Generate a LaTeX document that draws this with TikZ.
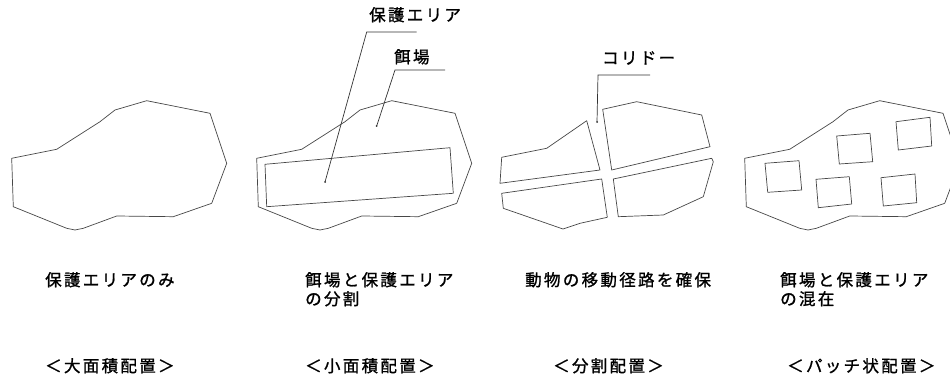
\documentclass[tikz,border=0pt]{standalone}
\usepackage{fontspec}
\newfontfamily\jp[LetterSpace=14,FakeBold=1.2]{Noto Sans CJK JP}
\usetikzlibrary{arrows.meta}
\tikzset{
  outl/.style={draw=black!72, line width=0.7pt, line join=round},
  lead/.style={draw=black!80, line width=0.7pt},
  lbl/.style={font=\jp\fontsize{16.5}{19}\selectfont, inner sep=0pt, anchor=base west, text=black},
}
\begin{document}
\begin{tikzpicture}[x=1pt,y=-1pt]
\useasboundingbox (0,0) rectangle (950,390);
\fill[white] (0,0) rectangle (950,390);
\begin{scope}
\clip (0,0) rectangle (950,390);
% panel outlines (panel 1, 2, 4)
\foreach \s in {0,245,733}{
  \draw[outl, xshift=\s] (11.7,158.3) -- (56.7,149.3) -- (100,121.7) -- (115,110) -- (146.7,100.7)
    -- (210,113.3) -- (226.7,163.3) -- (211.7,203.3) -- (173.3,216.7) -- (116.7,216)
    -- (83.3,228.3) -- (75,230) -- (66.7,228.3) -- (13.3,206.7) -- cycle;
}
\end{scope}
% panel 2 protection rectangle
\draw[outl] (265,164.3) -- (450,147.7) -- (453.3,193.3) -- (266.7,206.7) -- cycle;
% panel 3 split pieces
\draw[outl] (501.7,157.3) -- (546.7,148.3) -- (586.7,120.7) -- (600,170) -- (500,183.3) -- cycle;
\draw[outl] (602.7,109.3) -- (636.7,101.7) -- (701.7,115) -- (710,146.7) -- (611.7,170) -- cycle;
\draw[outl] (501.7,193.3) -- (601.7,179) -- (607.3,217.3) -- (580,223.3) -- (563,229) -- (503.3,208.3) -- cycle;
\draw[outl] (613.3,179) -- (711.7,158.3) -- (713.3,161.7) -- (703.3,196.7) -- (663.3,215) -- (618.3,216.7) -- cycle;
% panel 4 patches
\draw[outl] (765,163.3) -- (799,160.7) -- (801.7,190) -- (767.7,192.3) -- cycle;
\draw[outl] (836.7,136) -- (870,133.3) -- (872.7,161.7) -- (839.3,164) -- cycle;
\draw[outl] (896,121.7) -- (930,117.3) -- (931.7,146) -- (898.3,150) -- cycle;
\draw[outl] (816,179.3) -- (849.3,176.7) -- (851.7,204) -- (818.3,207.7) -- cycle;
\draw[outl] (881,177.7) -- (915,174) -- (916.7,202.7) -- (883.3,206) -- cycle;
% top labels and leaders
\node[lbl] (hogo) at (369,21) {保護エリア};
\node[lbl] (esaba) at (394,63) {餌場};
\node[lbl] (corr) at (602,64) {コリドー};
\coordinate (h0) at (325,182);
\coordinate (h1) at (366.7,32);
\coordinate (h2) at (416.7,32);
\coordinate (e0) at (376.7,126);
\coordinate (e1) at (395,70);
\coordinate (e2) at (445,70);
\coordinate (c0) at (597,122);
\coordinate (c1) at (598,75);
\coordinate (c2) at (650,75);
\draw[lead] (h0) -- (h1) -- (h2);
\draw[lead] (e0) -- (e1) -- (e2);
\draw[lead] (c0) -- (c1) -- (c2);
\fill[black!80] (h0) circle (1pt) (e0) circle (1pt) (c0) circle (1pt);
% captions
\node[lbl] (t1) at (45,286) {保護エリアのみ};
\node[lbl] (t2a) at (305,286) {餌場と保護エリア};
\node[lbl] (t2b) at (305,305) {の分割};
\node[lbl] (t3) at (525,286) {動物の移動径路を確保};
\node[lbl] (t4a) at (780,286) {餌場と保護エリア};
\node[lbl] (t4b) at (780,305) {の混在};
\node[lbl] (b1) at (45,372) {＜大面積配置＞};
\node[lbl] (b2) at (305,372) {＜小面積配置＞};
\node[lbl] (b3) at (553,372) {＜分割配置＞};
\node[lbl] (b4) at (787,372) {＜パッチ状配置＞};
\end{tikzpicture}
\end{document}
